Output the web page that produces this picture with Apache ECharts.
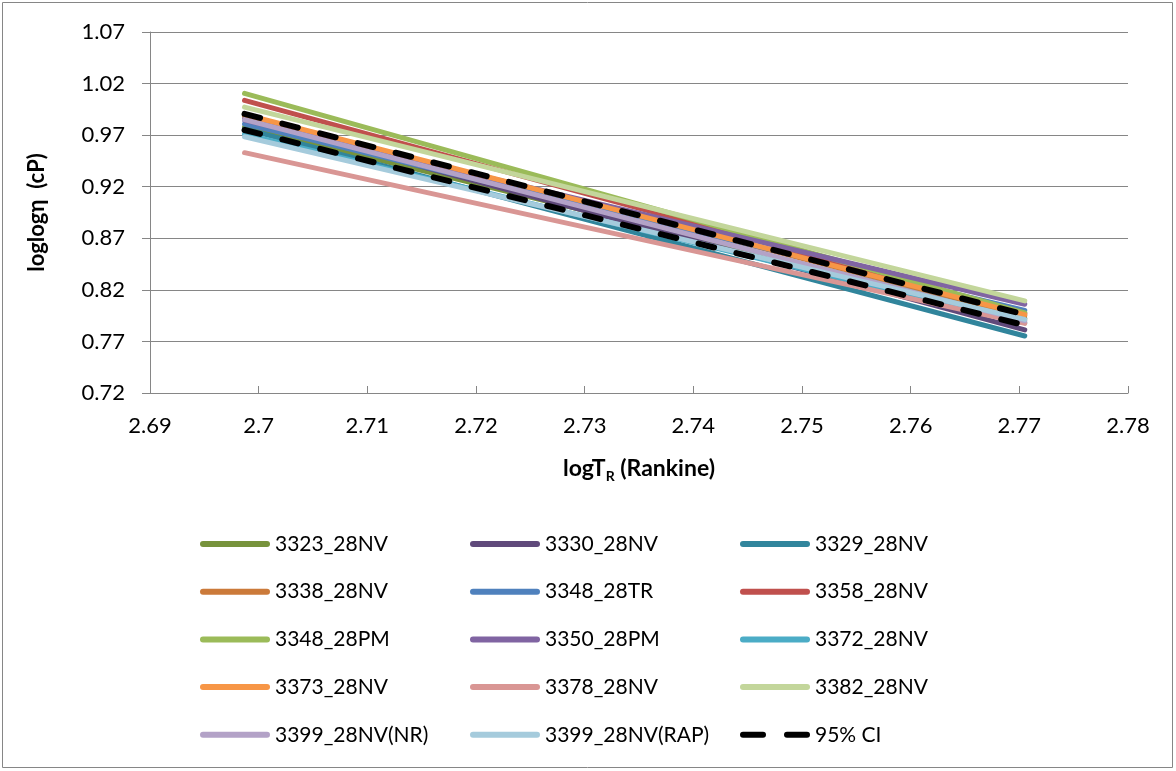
<!DOCTYPE html>
<html>
<head>
<meta charset="utf-8">
<script src="https://cdn.jsdelivr.net/npm/echarts@6/dist/echarts.min.js"></script>
<style>
  html, body { margin: 0; padding: 0; background: #ffffff; }
  #chart { width: 1176px; height: 771px; }
</style>
</head>
<body>
<div id="chart"></div>
<script>
// log of Rankine temperature at the two ends of each fitted line
const logTEnds = [2.6987, 2.7705];

// sample names, in legend order
const sampleNames = [
  '3323_28NV', '3330_28NV', '3329_28NV',
  '3338_28NV', '3348_28TR', '3358_28NV',
  '3348_28PM', '3350_28PM', '3372_28NV',
  '3373_28NV', '3378_28NV', '3382_28NV',
  '3399_28NV(NR)', '3399_28NV(RAP)'
];

// loglog viscosity at the low-temperature end
const loglogAtLow = [
  0.978, 0.986, 0.976,
  0.989, 0.981, 1.0037,
  1.0105, 0.9845, 0.971,
  0.990, 0.953, 0.9972,
  0.985, 0.9684
];

// loglog viscosity at the high-temperature end
const loglogAtHigh = [
  0.792, 0.7812, 0.7753,
  0.795, 0.800, 0.797,
  0.7977, 0.806, 0.788,
  0.796, 0.7875, 0.8093,
  0.790, 0.7914
];

// 95% confidence bounds (upper, lower) at both ends
const ciName = '95% CI';
const ciUpper = [0.9906, 0.796];
const ciLower = [0.975, 0.7857];

// axis tick ranges
const yTicks = { min: 0.72, max: 1.07, step: 0.05 };
const xTicks = { min: 2.69, max: 2.78, step: 0.01 };

const lineColors = [
  '#77933C', '#604A7B', '#31859C',
  '#CB7A3A', '#4F81BD', '#C0504D',
  '#9BBB59', '#8064A2', '#4BACC6',
  '#F79646', '#D99694', '#C3D69B',
  '#B3A2C7', '#A5CBDC'
];

const FONT = 'Lato, "Open Sans", sans-serif';
const AXIS_GRAY = '#868686';

const series = sampleNames.map((name, i) => ({
  name: name,
  type: 'line',
  symbol: 'none',
  silent: true,
  animation: false,
  color: lineColors[i],
  lineStyle: { width: 5, color: lineColors[i], cap: 'round' },
  data: [[logTEnds[0], loglogAtLow[i]], [logTEnds[1], loglogAtHigh[i]]]
}));

[ciUpper, ciLower].forEach(bound => {
  series.push({
    name: ciName,
    type: 'line',
    symbol: 'none',
    silent: true,
    animation: false,
    color: '#000000',
    lineStyle: { width: 6, color: '#000000', type: [16, 23], cap: 'round' },
    data: [[logTEnds[0], bound[0]], [logTEnds[1], bound[1]]]
  });
});

// legend icons: a thick rounded bar, and two rounded dashes for the CI
const barIcon = 'path://M3 0H67A3 3 0 0 1 67 6H3A3 3 0 0 1 3 0Z';
const dashIcon = 'path://M7 0H27A3 3 0 0 1 27 6H7A3 3 0 0 1 7 0Z M51 0H71A3 3 0 0 1 71 6H51A3 3 0 0 1 51 0Z';

// legend laid out as three columns of five rows
const legendColumns = [[], [], []];
sampleNames.concat([ciName]).forEach((n, i) => legendColumns[i % 3].push({
  name: n,
  icon: n === ciName ? dashIcon : barIcon
}));
const columnLeft = [195, 465, 735];

const legends = legendColumns.map((items, c) => ({
  data: items,
  orient: 'vertical',
  left: columnLeft[c],
  top: 526,
  itemWidth: 70,
  itemHeight: 6,
  itemGap: 21.7,
  selectedMode: false,
  textStyle: { fontFamily: FONT, fontSize: 21, color: '#000000', lineHeight: 26 }
}));

const chart = echarts.init(document.getElementById('chart'), null, { renderer: 'canvas' });

chart.setOption({
  animation: false,
  backgroundColor: '#ffffff',
  grid: { left: 150, right: 48, top: 32, bottom: 378, containLabel: false },
  graphic: [{
    type: 'rect',
    shape: { x: 2.5, y: 2.5, width: 1170, height: 765 },
    style: { fill: 'none', stroke: AXIS_GRAY, lineWidth: 1 },
    silent: true
  }],
  legend: legends,
  xAxis: {
    type: 'value',
    min: xTicks.min,
    max: xTicks.max,
    interval: xTicks.step,
    name: '{a|logT}{s|R}{a| (Rankine)}',
    nameLocation: 'middle',
    nameGap: 61,
    nameTextStyle: {
      rich: {
        a: { fontFamily: FONT, fontSize: 23, fontWeight: 'bold', color: '#000000' },
        s: { fontFamily: FONT, fontSize: 14, fontWeight: 'bold', color: '#000000', padding: [15, 0, 0, 0] }
      }
    },
    axisLine: { show: true, lineStyle: { color: AXIS_GRAY, width: 1 } },
    axisTick: { show: true, inside: true, length: 7, lineStyle: { color: AXIS_GRAY } },
    splitLine: { show: false },
    axisLabel: {
      margin: 22,
      fontFamily: FONT, fontSize: 22, color: '#000000',
      formatter: v => String(Math.round(v * 100) / 100)
    }
  },
  yAxis: {
    type: 'value',
    min: yTicks.min,
    max: yTicks.max,
    interval: yTicks.step,
    name: 'loglogη  (cP)',
    nameLocation: 'middle',
    nameGap: 102,
    nameTextStyle: { fontFamily: FONT, fontSize: 22, fontWeight: 'bold', color: '#000000' },
    axisLine: { show: true, lineStyle: { color: AXIS_GRAY, width: 1 } },
    axisTick: { show: true, inside: false, length: 8, lineStyle: { color: AXIS_GRAY } },
    splitLine: { show: true, lineStyle: { color: AXIS_GRAY, width: 1 } },
    axisLabel: {
      margin: 25,
      fontFamily: FONT, fontSize: 22, color: '#000000',
      formatter: v => (Math.round(v * 100) / 100).toFixed(2)
    }
  },
  series: series
});
</script>
</body>
</html>
